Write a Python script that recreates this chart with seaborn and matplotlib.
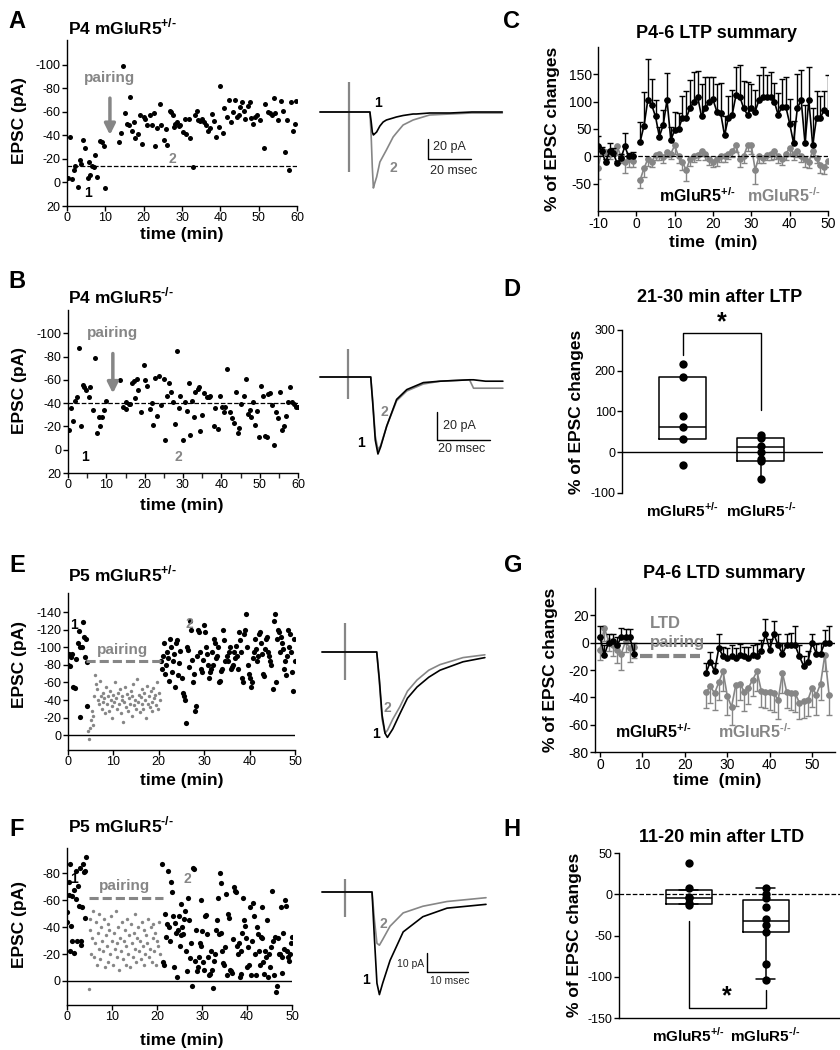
"""
mGluR5 LTP / LTD figure: example recordings, traces and group summaries.
"""
import numpy as np
import matplotlib
matplotlib.use('Agg')
import matplotlib.pyplot as plt
import seaborn as sns

W, H = 840, 1050
GRAY = '#868686'

# ---------------- data ----------------
# A: P4 mGluR5+/- (time in min, EPSC in pA)
a_t_pre = [0.3, 0.9, 1.3, 1.7, 2.2, 2.8, 3.3, 3.7, 4.3, 4.8, 5.4, 5.7, 6.1, 6.5, 7.0, 7.4, 7.8, 8.5, 9.1, 9.6, 10.0]
a_v_pre = [-4, -39, -3, -11, -14, 4, -19, -16, -36, -29, -4, -17, -6, -14, -13, -23, -5, -35, -34, -31, 5]
a_t_post = [13.5, 14.1, 14.6, 15.0, 15.7, 16.1, 16.5, 17.0, 17.4, 17.8, 18.5, 19.0, 19.6, 20.0, 20.4, 20.9,
            21.7, 22.2, 22.6, 23.0, 23.5, 24.2, 24.6, 25.2, 25.7, 26.1, 26.8, 27.2, 27.7, 27.8, 28.3, 28.7,
            29.1, 29.6, 30.3, 30.7, 31.1, 31.7, 32.2, 32.9, 33.5, 33.9, 34.3, 34.8, 35.2, 35.8, 36.3, 36.7,
            37.2, 37.8, 38.3, 38.9, 39.6, 40.0, 40.7, 41.0, 41.7, 42.2, 42.8, 43.2, 43.7, 44.3, 44.8, 45.2,
            45.7, 46.1, 46.5, 47.1, 47.7, 48.0, 48.5, 49.1, 49.6, 50.3, 51.3, 51.7, 52.4, 53.0, 53.5, 53.9,
            54.3, 55.0, 55.7, 56.3, 56.8, 57.4, 57.9, 58.4, 59.0, 59.4, 59.8]
a_v_post = [-34, -42, -99, -59, -50, -49, -73, -44, -51, -38, -41, -57, -33, -56, -54, -49, -57, -49, -59, -31,
            -46, -67, -49, -36, -45, -32, -61, -60, -57, -47, -50, -51, -48, -49, -43, -54, -41, -54, -38, -13,
            -57, -61, -53, -52, -54, -51, -49, -44, -46, -58, -52, -39, -47, -82, -42, -63, -56, -70, -51, -60,
            -70, -56, -57, -64, -68, -61, -54, -65, -68, -55, -50, -56, -57, -53, -29, -67, -60, -59, -57, -72,
            -59, -53, -69, -61, -26, -53, -11, -68, -44, -50, -69]
a_baseline = -14

# B: P4 mGluR5-/-
b_t_pre = [0.2, 0.8, 1.3, 1.9, 2.3, 2.9, 3.4, 3.8, 4.3, 4.8, 5.4, 5.8, 6.4, 7.0, 7.6, 8.1, 8.4, 8.9, 9.5, 10.0]
b_v_pre = [-17, -36, -25, -42, -45, -87, -20, -56, -54, -51, -45, -54, -34, -79, -14, -28, -20, -28, -34, -42]
b_t_post = [13.5, 14.3, 15.0, 15.2, 15.8, 16.3, 16.7, 17.1, 17.6, 18.0, 18.3, 19.0, 19.7, 20.2, 20.6, 21.5,
            21.9, 22.3, 22.8, 23.2, 23.8, 24.3, 25.0, 25.4, 25.8, 26.4, 26.9, 27.4, 27.8, 28.4, 28.9, 29.3,
            29.9, 30.4, 31.0, 31.5, 31.9, 32.3, 32.8, 33.2, 33.9, 34.3, 34.5, 35.0, 35.6, 36.3, 36.7, 37.1,
            38.0, 38.4, 39.0, 39.6, 40.2, 40.6, 41.0, 41.5, 42.2, 42.8, 43.2, 43.7, 44.3, 44.7, 45.2, 45.8,
            46.4, 46.9, 47.4, 47.8, 48.3, 48.9, 49.3, 49.8, 50.3, 50.9, 51.4, 51.8, 52.3, 52.8, 53.3, 53.8,
            54.3, 54.7, 55.4, 55.8, 56.3, 56.9, 57.3, 58.0, 58.4, 58.9, 59.4, 60.0]
b_v_post = [-60, -37, -41, -35, -39, -39, -57, -59, -44, -61, -51, -32, -73, -60, -55, -35, -40, -21, -62, -29,
            -63, -38, -61, -8, -46, -57, -50, -41, -22, -85, -36, -46, -8, -41, -33, -57, -13, -42, -28, -50,
            -52, -54, -16, -30, -49, -45, -45, -46, -20, -36, -18, -46, -37, -32, -37, -69, -32, -27, -23, -50,
            -14, -19, -39, -46, -61, -31, -34, -28, -41, -21, -33, -11, -55, -46, -12, -11, -48, -49, -38, -4,
            -32, -27, -50, -17, -20, -29, -41, -54, -41, -39, -37, -37]
b_baseline = -40

# E: P5 mGluR5+/- (black = recording, gray = during pairing)
e_t_pre = [0.0, 0.2, 0.4, 0.6, 0.9, 1.1, 1.5, 1.7, 2.1, 2.4, 2.6, 3.0, 3.2, 3.5, 3.7, 3.9, 4.1, 2.6, 4.2]
e_v_pre = [-80, -93, -79, -89, -92, -55, -54, -87, -105, -119, -101, -100, -129, -112, -89, -110, -83, -21, -33]
e_pair_v = [-5, 5, -8, -17, -27, -12, -22, -45, -68, -58, -52, -40, -35, -62, -45, -30, -48, -38, -42, -25,
            -55, -36, -44, -28, -50, -40, -33, -20, -46, -38, -60, -42, -30, -48, -35, -52, -25, -40, -45, -15,
            -38, -55, -32, -47, -28, -42, -36, -50, -22, -44, -58, -34, -40, -30, -64, -38, -46, -26, -43, -35,
            -52, -30, -48, -40, -20, -56, -36, -44, -32, -50, -38, -28, -54, -42, -46, -34, -60, -30, -48, -40]
e_pair_start, e_pair_step = 4.4, 0.2
e_v_post = [-85, -75, -90, -105, -70, -80, -95, -88, -62, -110, -100, -72, -85, -93, -55, -105, -108, -68, -82, -96,
            -65, -48, -44, -40, -14, -100, -97, -78, -130, -120, -86, -60, -70, -27, -33, -90, -120, -118, -95, -75,
            -72, -86,
            -125, -118, -100, -92, -80, -65, -72, -75, -95, -80, -110, -105, -88, -90, -100, -60, -62, -73, -75,
            -120, -108, -85,
            -90, -85, -95, -100, -75, -78, -80, -95, -88, -102, -90, -75, -118, -108, -95, -65, -60, -115, -120,
            -138, -100, -80, -70,
            -65, -55, -60, -88, -95, -110, -98, -85, -90, -115, -118, -105, -92, -70, -67, -98, -110, -112, -95,
            -90, -85, -80, -52,
            -130, -138, -60, -110, -120, -118, -95, -112, -105, -98, -75, -85, -68, -90, -120, -100, -115, -95,
            -72, -50, -110, -85]
e_post_start, e_post_end = 20.5, 50.0
e_pair_level = -85

# F: P5 mGluR5-/-
f_t_pre = [0.0, 0.1, 0.4, 0.5, 0.6, 0.7, 0.9, 1.0, 1.1, 1.5, 1.6, 1.9, 2.1, 2.2, 2.4, 2.6, 2.8, 3.0, 3.2, 3.3,
           3.6, 3.7, 3.9, 4.1, 4.3]
f_v_pre = [-51, -44, -74, -64, -22, -87, -41, -63, -30, -68, -21, -61, -82, -30, -71, -56, -84, -30, -27, -55,
           -87, -81, -82, -47, -92]
f_pair_v = [6, -46, -38, -20, -32, -52, -18, -28, -44, -12, -36, -24, -50, -16, -40, -30, -22, -46, -10, -34,
            -26, -42, -14, -38, -20, -48, -30, -12, -36, -24, -52, -18, -28, -40, -8, -32, -22, -44, -16, -30,
            -38, -12, -26, -46, -20, -34, -10, -42, -28, -18, -36, -24, -50, -14, -32, -40, -22, -30, -16, -44,
            -26, -12, -38, -20, -34, -28, -46, -18, -24, -40, -14, -32, -42, -22, -36, -12, -30, -26, -44, -20]
f_pair_start, f_pair_step = 4.8, 0.2
f_v_post = [-87, -14, -12, -50, -33, -42, -82, -40, -30, -74, -66, -48, -10, -43, -36, -3, -38, -48, -26, -34,
            -57, -40, -35, -46, -52, -22, -7, -62, -45, -17, -28, 4, -84, -83, -15, -38, -7, -10, -18, -28,
            -60, -26, -37, -14,
            -8, -48, -49, -35, -18, -4, -5, -22, -8, 5, -15, -20, -38, -45, -62, -35, -80, -73, -36, -22,
            -13, -12, -25, -65, -4,
            -50, -47, -8, -7, -6, -31, -70, -67, -66, -26, -20, -28, -3, -5, -22, -36, -62, -45, -41, -32,
            -10, -25, -12, -55, -4,
            -30, -58, -48, -20, -4, -40, -35, -22, -12, -33, -55, -32, -14, -5, -22, -18, -45, -3, -20, -10,
            -25, -67, -30, -4, -33,
            8, 4, -32, -20, -20, -55, -18, -6, -36, -24, -60, -56, -22, -18, -15, -20, -28, -33]
f_post_start, f_post_end = 21.2, 50.0
f_pair_level = -62

# C: LTP summary (% change), 1-min bins
c_t_pre = list(range(-10, 0))
c_t_post = list(range(1, 51))
c_het_pre = [19, 9, -11, 9, 6, -13, -3, 18, 0, 0]
c_het_pre_err = [18, 8, 6, 15, 10, 5, 8, 25, 6, 8]
c_het_post = [27, 56, 103, 94, 73, 36, 57, 103, 30, 48, 50, 70, 70, 88, 100, 109, 73, 88, 100, 104,
              82, 79, 39, 70, 76, 112, 109, 88, 76, 88, 82, 103, 109, 109, 109, 100, 76, 91, 91, 60,
              25, 88, 103, 24, 103, 21, 70, 70, 85, 79]
c_het_post_err = [36, 62, 75, 47, 30, 18, 28, 50, 24, 34, 30, 40, 50, 52, 55, 48, 60, 58, 45, 42,
                  50, 55, 35, 40, 45, 52, 58, 50, 60, 45, 40, 45, 55, 40, 45, 35, 40, 50, 55, 45,
                  40, 62, 55, 70, 60, 68, 50, 40, 35, 70]
c_ko_pre = [-22, 12, 8, 5, 10, 18, 0, -10, -5, -8]
c_ko_pre_err = [20, 10, 12, 10, 8, 15, 12, 20, 15, 12]
c_ko_post = [-43, -22, -5, -10, 3, 5, -2, 8, 5, 20, 0, -10, -25, -5, 0, 3, 10, 5, -5, -10,
             -5, 0, 0, 5, 10, 20, -5, 0, 20, 20, -25, 0, -3, 3, 5, 10, 0, -5, 5, 15,
             5, 10, 0, -5, -10, 10, -3, -15, -20, -8]
c_ko_post_err = [15, 15, 12, 10, 10, 12, 10, 10, 10, 15, 12, 15, 20, 12, 10, 10, 10, 12, 10, 10,
                 12, 10, 10, 10, 12, 12, 15, 12, 10, 15, 25, 12, 10, 10, 12, 15, 12, 10, 12, 15,
                 12, 12, 10, 15, 12, 12, 10, 15, 12, 12]

# D: 21-30 min after LTP
d_het = [216, 184, 88, 62, 32, -32]
d_ko = [42, 35, 16, 0, -17, -21, -66]
d_q1, d_med, d_q3 = [32, -22], [62, 13], [184, 35]
d_lo, d_hi = [32, -66], [184, 42]
d_bracket = [238, 293, 293, 103]

# G: LTD summary
g_t_pre = list(range(0, 9))
g_t_post = list(range(25, 55))
g_het_pre = [4, -9, 0, 1, -2, 4, 4, 4, -8]
g_het_pre_err = [8, 7, 6, 5, 6, 7, 6, 6, 8]
g_het_post = [-22, -14, -21, -4, -10, -11, -10, -11, -9, -10, -11, -9, -10, -6, 6, -5, 6, -2, -8, -2,
              -2, -2, -10, -17, -14, 0, -8, -8, 0, 0]
g_het_post_err = [7, 7, 6, 10, 7, 7, 8, 7, 8, 7, 8, 7, 9, 8, 11, 8, 10, 8, 8, 8,
                  9, 14, 8, 7, 8, 6, 7, 8, 9, 12]
g_ko_pre = [-5, 11, 1, -2, -5, -8, 1, -4, -3]
g_ko_pre_err = [8, 10, 7, 8, 10, 12, 8, 10, 8]
g_ko_post = [-36, -32, -37, -29, -21, -39, -47, -31, -30, -36, -33, -27, -21, -35, -36, -36, -37, -42, -22, -36,
             -37, -37, -44, -43, -42, -33, -38, -30, -9, -38]
g_ko_post_err = [12, 12, 12, 13, 14, 14, 13, 15, 12, 14, 12, 12, 14, 12, 12, 13, 14, 14, 15, 12,
                 12, 14, 12, 12, 12, 14, 15, 12, 12, 15]

# H: 11-20 min after LTD
h_het = [38, 7, -3, -4, -10, -13]
h_ko = [7, 0, -4, -15, -30, -37, -46, -84, -104]
h_q1, h_med, h_q3 = [-12, -46], [-4, -32], [5, -7]
h_lo, h_hi = [-12, -103], [5, 7]
h_bracket = [-33, -138, -138, -116]

# example traces (ms, pA); 1 = before, 2 = after
tr_a_t = [0, 23.0, 23.6, 24.1, 24.6, 25.1, 26.1, 27.6, 29.1, 30.6, 33.7, 35.2, 38.3, 42.9, 44.4, 50.5, 60, 70, 84]
tr_a_1 = [0, 0, -10, -20, -23, -22, -20, -14, -10, -8, -6, -5, -3.5, -2, -2, -1, -1, 0, 0]
tr_a_2 = [0, 0, -25, -55, -76, -72, -65, -50, -44, -38, -25, -21, -13, -8, -7, -3, -2, -1, -1]
tr_a_art = (13.4, -60, 30)
tr_b_t = [0, 19.0, 19.8, 20.7, 21.7, 22.7, 25.0, 28.7, 32.5, 38.7, 45, 56.0, 57.5, 62, 68.5]
tr_b_1 = [0, 0, -20, -45, -55, -50, -35, -16, -9, -4, -3, -2, -2, -3, -3]
tr_b_2 = [0, 0, -18, -42, -52, -49, -35, -17, -10, -5, -3, -2, -8, -8, -8]
tr_b_art = (10.5, -16, 20)
tr_e_t = [0, 20.5, 21.5, 22.5, 23.6, 24.5, 26.5, 29.2, 32, 35.6, 40, 44.2, 52.8, 61]
tr_e_1 = [0, 0, -20, -45, -58, -61, -55, -44, -33, -25, -18, -13, -7, -4]
tr_e_2 = [0, 0, -22, -48, -58, -56, -48, -39, -28, -20, -13, -9, -4, -2]
tr_e_art = (8.6, -20, 21)
tr_f_t = [0, 12.2, 12.8, 13.4, 14.0, 14.8, 16.6, 19.8, 24.6, 30.5, 40.0]
tr_f_1 = [0, 0, -25, -48, -54, -48, -36, -21, -13, -8.5, -6.5]
tr_f_2 = [0, 0, -15, -27, -28, -25, -18, -11, -7.5, -5, -3]
tr_f_art = (5.6, -13, 7)

# genotype superscripts (U+2010 hyphen keeps the short dash of the original)
HET = '+/\u2010'
KO = '\u2010/\u2010'


def px_axes(fig, l, t, r, b):
    return fig.add_axes([l / W, 1 - b / H, (r - l) / W, (b - t) / H])


def ftext(fig, x, y, s, **kw):
    fig.text(x / W, 1 - y / H, s, **kw)


def sup(base, s):
    return base + r'$^{\mathbf{' + s + '}}$'


def style(ax):
    sns.despine(ax=ax)
    ax.tick_params(direction='out', length=3.5, width=1, labelsize=9, pad=1, colors='black')
    for sp in ax.spines.values():
        sp.set_linewidth(1)
        sp.set_color('black')
    ax.set_facecolor('none')


def trace_axes(fig, box, x0, y0, px_ms, px_pa):
    l, t, r, b = box
    ax = px_axes(fig, l, t, r, b)
    ax.set_xlim((l - x0) / px_ms, (r - x0) / px_ms)
    ax.set_ylim((y0 - b) / px_pa, (y0 - t) / px_pa)
    ax.axis('off')
    return ax


def draw_trace(ax, t, i1, i2, art):
    ax.vlines(art[0], art[1], art[2], color=GRAY, lw=1.6)
    sns.lineplot(x=t, y=i2, color=GRAY, lw=1.2, estimator=None, sort=False, ax=ax)
    sns.lineplot(x=t, y=i1, color='black', lw=1.2, estimator=None, sort=False, ax=ax)


def scale_bar(ax, x, y, ms, pa):
    ax.plot([x, x, x + ms], [y + pa, y, y], color='black', lw=1)


def summary_lines(ax, groups):
    for t, v, e, col, down in groups:
        err = [e, [0] * len(e)] if down else [[0] * len(e), e]
        ax.errorbar(t, v, yerr=err, fmt='none', ecolor=col, elinewidth=1, capsize=2.5, capthick=1)
        sns.lineplot(x=t, y=v, color=col, lw=1.2, marker='o', markersize=4.8, markeredgewidth=0,
                     estimator=None, ax=ax)


def main():
    sns.set_theme(style='ticks')
    plt.rcParams['font.family'] = ['Liberation Sans', 'DejaVu Sans']
    plt.rcParams['mathtext.fontset'] = 'custom'
    plt.rcParams['mathtext.rm'] = 'Liberation Sans'
    plt.rcParams['mathtext.bf'] = 'Liberation Sans:bold'
    plt.rcParams['axes.unicode_minus'] = False

    fig = plt.figure(figsize=(8.4, 10.5), dpi=100)
    bold = dict(fontweight='bold', color='black')
    gbold = dict(fontweight='bold', color=GRAY)

    # ---------- A ----------
    ax = px_axes(fig, 67, 40, 297, 206)
    sns.scatterplot(x=a_t_pre + a_t_post, y=a_v_pre + a_v_post, color='black', s=13, linewidth=0, ax=ax)
    ax.axhline(a_baseline, ls='--', lw=0.9, color='black')
    ax.set_xlim(0, 60)
    ax.set_ylim(20, -121)
    ax.set_xticks(range(0, 61, 10))
    ax.set_yticks([20, 0, -20, -40, -60, -80, -100])
    style(ax)
    ax.text(11, -89, 'pairing', fontsize=11, ha='center', va='center', **gbold)
    ax.annotate('', xy=(11.2, -38), xytext=(11.2, -74),
                arrowprops=dict(arrowstyle='-|>', color=GRAY, lw=2.5, mutation_scale=16))
    ax.text(5.5, 9, '1', fontsize=10, ha='center', va='center', **bold)
    ax.text(27.4, -20, '2', fontsize=10, ha='center', va='center', **gbold)

    # ---------- B ----------
    ax = px_axes(fig, 68, 310, 298, 473)
    sns.scatterplot(x=b_t_pre + b_t_post, y=b_v_pre + b_v_post, color='black', s=13, linewidth=0, ax=ax)
    ax.axhline(b_baseline, ls='--', lw=0.9, color='black')
    ax.set_xlim(0, 60)
    ax.set_ylim(20, -120)
    ax.set_xticks(range(0, 61, 10))
    ax.set_xticks(range(5, 60, 10), minor=True)
    ax.set_yticks([20, 0, -20, -40, -60, -80, -100])
    style(ax)
    ax.tick_params(which='minor', direction='out', length=3.5, width=1)
    ax.text(11.7, -100, 'pairing', fontsize=11, ha='center', va='center', **gbold)
    ax.annotate('', xy=(11.7, -46), xytext=(11.7, -85),
                arrowprops=dict(arrowstyle='-|>', color=GRAY, lw=2.5, mutation_scale=16))
    ax.text(4.5, 6, '1', fontsize=10, ha='center', va='center', **bold)
    ax.text(28.9, 6, '2', fontsize=10, ha='center', va='center', **gbold)

    # ---------- E ----------
    ax = px_axes(fig, 68, 593, 295, 750)
    e_t_pair = e_pair_start + e_pair_step * np.arange(len(e_pair_v))
    e_t_post = np.linspace(e_post_start, e_post_end, len(e_v_post))
    sns.scatterplot(x=e_t_pair, y=e_pair_v, color=GRAY, s=6, linewidth=0, ax=ax)
    sns.scatterplot(x=e_t_pre, y=e_v_pre, color='black', s=14, linewidth=0, ax=ax)
    sns.scatterplot(x=e_t_post, y=e_v_post, color='black', s=14, linewidth=0, ax=ax)
    ax.axhline(0, color='black', lw=1)
    ax.plot([4.0, 20.7], [e_pair_level, e_pair_level], color=GRAY, lw=2.2, ls=(0, (3, 1.3)))
    ax.set_xlim(0, 50)
    ax.set_ylim(17, -162)
    ax.set_xticks(range(0, 51, 10))
    ax.set_yticks(range(0, -141, -20))
    style(ax)
    ax.text(11.9, -97, 'pairing', fontsize=11, ha='center', va='center', **gbold)
    ax.text(1.3, -125, '1', fontsize=10, ha='center', va='center', **bold)
    ax.text(26.7, -127, '2', fontsize=10, ha='center', va='center', **gbold)

    # ---------- F ----------
    ax = px_axes(fig, 67, 848, 292, 1005)
    f_t_pair = f_pair_start + f_pair_step * np.arange(len(f_pair_v))
    f_t_post = np.linspace(f_post_start, f_post_end, len(f_v_post))
    sns.scatterplot(x=f_t_pair, y=f_pair_v, color=GRAY, s=6, linewidth=0, ax=ax)
    sns.scatterplot(x=f_t_pre, y=f_v_pre, color='black', s=14, linewidth=0, ax=ax)
    sns.scatterplot(x=f_t_post, y=f_v_post, color='black', s=14, linewidth=0, ax=ax)
    ax.axhline(0, color='black', lw=1)
    ax.plot([4.8, 21.3], [f_pair_level, f_pair_level], color=GRAY, lw=2.2, ls=(0, (3, 1.3)))
    ax.set_xlim(0, 50)
    ax.set_ylim(18, -99)
    ax.set_xticks(range(0, 51, 10))
    ax.set_yticks(range(0, -81, -20))
    style(ax)
    ax.text(12.7, -70.5, 'pairing', fontsize=11, ha='center', va='center', **gbold)
    ax.text(1.6, -76, '1', fontsize=10, ha='center', va='center', **bold)
    ax.text(26.7, -76, '2', fontsize=10, ha='center', va='center', **gbold)

    # left column labels
    for y_ax, y_xl, title, ttl_y, letter, let_y in [
            (120, 235, sup('P4 mGluR5', HET), 27, 'A', 22),
            (390, 505, sup('P4 mGluR5', KO), 296, 'B', 281),
            (665, 780, sup('P5 mGluR5', HET), 574, 'E', 565),
            (925, 1040, sup('P5 mGluR5', KO), 825, 'F', 830)]:
        ftext(fig, 20, y_ax, 'EPSC (pA)', fontsize=12.5, rotation=90, ha='center', va='center', **bold)
        ftext(fig, 182, y_xl, 'time (min)', fontsize=12.5, ha='center', va='center', **bold)
        ftext(fig, 68, ttl_y, title, fontsize=12.5, ha='left', va='center', **bold)
        ftext(fig, 17, let_y, letter, fontsize=17, ha='center', va='center', **bold)

    # ---------- traces ----------
    ax = trace_axes(fig, (305, 60, 560, 210), 320, 112, 2.17, 1.0)
    draw_trace(ax, tr_a_t, tr_a_1, tr_a_2, tr_a_art)
    scale_bar(ax, 49.8, -47, 20, 20)
    ftext(fig, 433, 147, '20 pA', fontsize=9, ha='left', va='center')
    ftext(fig, 430, 171, '20 msec', fontsize=9, ha='left', va='center')
    ftext(fig, 378, 103, '1', fontsize=10, ha='center', va='center', **bold)
    ftext(fig, 393, 168, '2', fontsize=10, ha='center', va='center', **gbold)

    ax = trace_axes(fig, (305, 330, 560, 470), 320, 377, 2.67, 1.4)
    draw_trace(ax, tr_b_t, tr_b_1, tr_b_2, tr_b_art)
    scale_bar(ax, 43.8, -45, 20, 20)
    ftext(fig, 443, 426, '20 pA', fontsize=9, ha='left', va='center')
    ftext(fig, 438, 449, '20 msec', fontsize=9, ha='left', va='center')
    ftext(fig, 361, 443, '1', fontsize=10, ha='center', va='center', **bold)
    ftext(fig, 384, 412, '2', fontsize=10, ha='center', va='center', **gbold)

    ax = trace_axes(fig, (305, 610, 560, 750), 322, 652, 2.67, 1.4)
    draw_trace(ax, tr_e_t, tr_e_1, tr_e_2, tr_e_art)
    ftext(fig, 376, 734, '1', fontsize=10, ha='center', va='center', **bold)
    ftext(fig, 387, 708, '2', fontsize=10, ha='center', va='center', **gbold)

    ax = trace_axes(fig, (305, 870, 560, 1010), 322, 892, 4.1, 1.9)
    draw_trace(ax, tr_f_t, tr_f_1, tr_f_2, tr_f_art)
    scale_bar(ax, 25.6, -42, 10, 10)
    ftext(fig, 424, 964, '10 pA', fontsize=7.5, ha='right', va='center')
    ftext(fig, 430, 981, '10 msec', fontsize=7.5, ha='left', va='center')
    ftext(fig, 366, 980, '1', fontsize=10, ha='center', va='center', **bold)
    ftext(fig, 383, 924, '2', fontsize=10, ha='center', va='center', **gbold)

    # ---------- C ----------
    ax = px_axes(fig, 598, 47, 828, 211)
    summary_lines(ax, [(c_t_pre, c_ko_pre, c_ko_pre_err, GRAY, True),
                       (c_t_post, c_ko_post, c_ko_post_err, GRAY, True),
                       (c_t_pre, c_het_pre, c_het_pre_err, 'black', False),
                       (c_t_post, c_het_post, c_het_post_err, 'black', False)])
    ax.axhline(0, ls='--', lw=0.9, color='black')
    ax.set_xlim(-10, 50)
    ax.set_ylim(-100, 200)
    ax.set_xticks(range(-10, 51, 10))
    ax.set_yticks([-50, 0, 50, 100, 150])
    style(ax)
    ax.tick_params(labelsize=10)
    ax.text(16, -72, sup('mGluR5', HET), fontsize=11.5, ha='center', va='center', **bold)
    ax.text(38.4, -72, sup('mGluR5', ' ' + KO), fontsize=11.5, ha='center', va='center', **gbold)
    ftext(fig, 716, 33, 'P4-6 LTP summary', fontsize=13, ha='center', va='center', **bold)
    ftext(fig, 713, 243, 'time  (min)', fontsize=12.5, ha='center', va='center', **bold)
    ftext(fig, 553, 129, '% of EPSC changes', fontsize=12.5, rotation=90, ha='center', va='center', **bold)
    ftext(fig, 512, 22, 'C', fontsize=17, ha='center', va='center', **bold)

    # ---------- D ----------
    ax = px_axes(fig, 622, 330, 823, 493)
    stats = [dict(q1=q1, med=m, q3=q3, whislo=lo, whishi=hi, fliers=[])
             for q1, m, q3, lo, hi in zip(d_q1, d_med, d_q3, d_lo, d_hi)]
    line = dict(color='black', lw=1.1)
    ax.bxp(stats, positions=[0, 1], widths=0.6, showcaps=False, showfliers=False,
           boxprops=line, medianprops=line, whiskerprops=line)
    sns.stripplot(x=['het'] * len(d_het) + ['ko'] * len(d_ko), y=d_het + d_ko, jitter=False,
                  color='black', size=6, linewidth=0, zorder=3, ax=ax)
    ax.axhline(0, color='black', lw=1)
    ax.plot([0, 0, 1, 1], d_bracket, color='black', lw=1)
    ax.text(0.5, 318, '*', fontsize=18, ha='center', va='center', **bold)
    ax.set_xlim(-0.78, 1.8)
    ax.set_ylim(-100, 300)
    ax.set_yticks([-100, 0, 100, 200, 300])
    style(ax)
    ax.spines['bottom'].set_visible(False)
    ax.tick_params(axis='x', length=0, pad=6)
    ax.set_xticks([0, 1])
    ax.set_xticklabels([sup('mGluR5', HET), sup('mGluR5', KO)], fontsize=11, fontweight='bold')
    ftext(fig, 720, 298, '21-30 min after LTP', fontsize=13, ha='center', va='center', **bold)
    ftext(fig, 577, 412, '% of EPSC changes', fontsize=12.5, rotation=90, ha='center', va='center', **bold)
    ftext(fig, 512, 290, 'D', fontsize=17, ha='center', va='center', **bold)

    # ---------- G ----------
    ax = px_axes(fig, 595, 588, 835, 752)
    summary_lines(ax, [(g_t_pre, g_ko_pre, g_ko_pre_err, GRAY, True),
                       (g_t_post, g_ko_post, g_ko_post_err, GRAY, True),
                       (g_t_pre, g_het_pre, g_het_pre_err, 'black', False),
                       (g_t_post, g_het_post, g_het_post_err, 'black', False)])
    ax.axhline(0, color='black', lw=1)
    ax.plot([9.4, 23.6], [-10, -10], color=GRAY, lw=3, ls=(0, (3, 1)))
    ax.text(11.8, 14, 'LTD', fontsize=12, ha='left', va='center', **gbold)
    ax.text(11.8, 0, 'pairing', fontsize=12, ha='left', va='center', **gbold)
    ax.set_xlim(-1.2, 55.4)
    ax.set_ylim(-80, 40)
    ax.set_xticks(range(0, 51, 10))
    ax.set_yticks([-80, -60, -40, -20, 0, 20])
    style(ax)
    ax.tick_params(labelsize=10)
    ax.text(12.5, -65, sup('mGluR5', HET), fontsize=11.5, ha='center', va='center', **bold)
    ax.text(36.6, -65, sup('mGluR5', ' ' + KO), fontsize=11.5, ha='center', va='center', **gbold)
    ftext(fig, 724, 573, 'P4-6 LTD summary', fontsize=13, ha='center', va='center', **bold)
    ftext(fig, 717, 780, 'time  (min)', fontsize=12.5, ha='center', va='center', **bold)
    ftext(fig, 551, 670, '% of EPSC changes', fontsize=12.5, rotation=90, ha='center', va='center', **bold)
    ftext(fig, 513, 565, 'G', fontsize=17, ha='center', va='center', **bold)

    # ---------- H ----------
    ax = px_axes(fig, 619, 853, 840, 1018)
    stats = [dict(q1=q1, med=m, q3=q3, whislo=lo, whishi=hi, fliers=[])
             for q1, m, q3, lo, hi in zip(h_q1, h_med, h_q3, h_lo, h_hi)]
    ax.bxp(stats, positions=[0, 1], widths=0.6, showcaps=True, showfliers=False,
           boxprops=line, medianprops=line, whiskerprops=line, capprops=line, capwidths=0.25)
    sns.stripplot(x=['het'] * len(h_het) + ['ko'] * len(h_ko), y=h_het + h_ko, jitter=False,
                  color='black', size=6, linewidth=0, zorder=3, ax=ax)
    ax.axhline(0, ls='--', lw=0.9, color='black')
    ax.plot([0, 0, 1, 1], h_bracket, color='black', lw=1)
    ax.text(0.49, -124, '*', fontsize=18, ha='center', va='center', **bold)
    ax.set_xlim(-0.91, 1.97)
    ax.set_ylim(-150, 50)
    ax.set_yticks([-150, -100, -50, 0, 50])
    style(ax)
    ax.tick_params(axis='x', length=0, pad=6)
    ax.set_xticks([0, 1])
    ax.set_xticklabels([sup('mGluR5', HET), sup('mGluR5', KO)], fontsize=11, fontweight='bold')
    ftext(fig, 722, 837, '11-20 min after LTD', fontsize=13, ha='center', va='center', **bold)
    ftext(fig, 575, 935, '% of EPSC changes', fontsize=12.5, rotation=90, ha='center', va='center', **bold)
    ftext(fig, 512, 830, 'H', fontsize=17, ha='center', va='center', **bold)

    fig.savefig('out.png', dpi=100, facecolor='white')
    plt.close(fig)


if __name__ == '__main__':
    main()
